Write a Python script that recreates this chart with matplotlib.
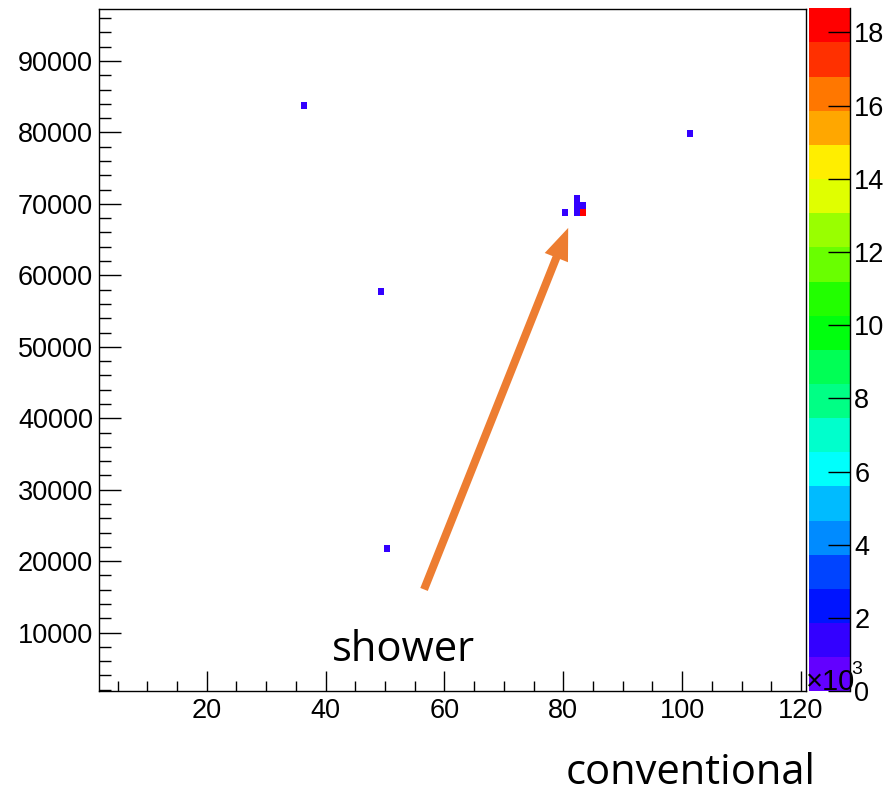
import colorsys
import numpy as np
import matplotlib
matplotlib.use("Agg")
from matplotlib import pyplot as plt
from matplotlib.colors import ListedColormap, BoundaryNorm
from matplotlib.patches import FancyArrowPatch

# filled bins: centre of x bin, centre of y bin, content
bin_x = [36.33, 49.33, 101.33, 50.33, 80.33, 82.33, 82.33, 82.33, 83.33, 83.33]
bin_y = [83800, 57800, 79800, 21800, 68800, 68800, 69800, 70800, 69800, 68800]
bin_w = [1400, 1500, 1300, 1600, 1400, 1700, 1500, 1300, 1600, 18660]

z_max = 18660
n_cont = 20
cbar_ticks = [0, 2, 4, 6, 8, 10, 12, 14, 16, 18]
x_ticks = [20, 40, 60, 80, 100, 120]
y_ticks = [10000, 20000, 30000, 40000, 50000, 60000, 70000, 80000, 90000]

plt.rcParams['font.family'] = ['Liberation Sans', 'DejaVu Sans']


def pretty_palette(ncont, npal=50):
    # violet -> red scan in hue, picked per contour level
    cols = []
    for k in range(ncont):
        i = int((k + 0.99) * npal / ncont)
        hue = 280.0 - (i + 1) * 280.0 / npal
        cols.append(colorsys.hls_to_rgb(hue / 360.0, 0.5, 1.0))
    return cols


cmap = ListedColormap(pretty_palette(n_cont))
norm = BoundaryNorm(np.linspace(0, z_max, n_cont + 1), cmap.N)

xedges = np.arange(0.83, 122.0, 1.0)
yedges = np.arange(300, 98000, 1000)
H, _, _ = np.histogram2d(bin_x, bin_y, bins=[xedges, yedges], weights=bin_w)
H = np.ma.masked_equal(H, 0)

W, Hgt = 896, 796
fig = plt.figure(figsize=(W / 100, Hgt / 100), dpi=100)
ax = fig.add_axes([99.3 / W, 105.3 / Hgt, 706.2 / W, 682.0 / Hgt])
cax = fig.add_axes([809.3 / W, 104.7 / Hgt, 40.7 / W, 683.0 / Hgt])

mesh = ax.pcolormesh(xedges, yedges, H.T, cmap=cmap, norm=norm)
ax.set_xlim(1.93, 120.76)
ax.set_ylim(1870, 97320)

tick_fs = 19.5
ax.set_xticks(x_ticks)
ax.set_xticks(np.arange(5, 121, 5), minor=True)
ax.set_yticks(y_ticks)
ax.set_yticks(np.arange(2000, 97000, 2000), minor=True)
ax.set_xticklabels([str(v) for v in x_ticks])
ax.set_yticklabels([str(v) for v in y_ticks])
ax.tick_params(axis='x', which='major', direction='in', length=14.4, width=1.0,
               labelsize=tick_fs, pad=5)
ax.tick_params(axis='x', which='minor', direction='in', length=7.2, width=1.0)
ax.tick_params(axis='y', which='major', direction='in', length=15.8, width=1.0,
               labelsize=tick_fs, pad=4.5)
ax.tick_params(axis='y', which='minor', direction='in', length=8.6, width=1.0)
for s in ax.spines.values():
    s.set_linewidth(1.0)

# colour scale on the right
cb = fig.colorbar(mesh, cax=cax, ticks=[t * 1000 for t in cbar_ticks])
cb.outline.set_visible(False)
cax.set_yticklabels([str(t) for t in cbar_ticks])
cax.tick_params(axis='y', which='major', direction='in', length=15.8, width=1.0,
                labelsize=tick_fs, pad=3, left=False, right=True,
                labelright=True, labelleft=False)
cax.minorticks_off()
cax.plot([1, 1], [0, 1], transform=cax.transAxes, color='black', lw=1.0,
         clip_on=False)

fig.text(806 / W, 1 - 690 / Hgt, '\u00d710', fontsize=21, ha='left',
         va='baseline')
fig.text(851 / W, 1 - 674 / Hgt, '3', fontsize=14, ha='left', va='baseline')

# arrow pointing at the dense cluster
arrow = FancyArrowPatch((56.4, 15680), (81.0, 67000),
                        arrowstyle='simple,head_length=23,head_width=18,tail_width=5.8',
                        mutation_scale=1, color='#ED7D31', lw=0)
ax.add_patch(arrow)

fig.text(332 / W, 1 - 661 / Hgt, 'shower', fontsize=30, family='Open Sans',
         ha='left', va='baseline')
fig.text(566 / W, 1 - 784 / Hgt, 'conventional', fontsize=30,
         family='Open Sans', ha='left', va='baseline')

fig.savefig('out.png', dpi=100)
